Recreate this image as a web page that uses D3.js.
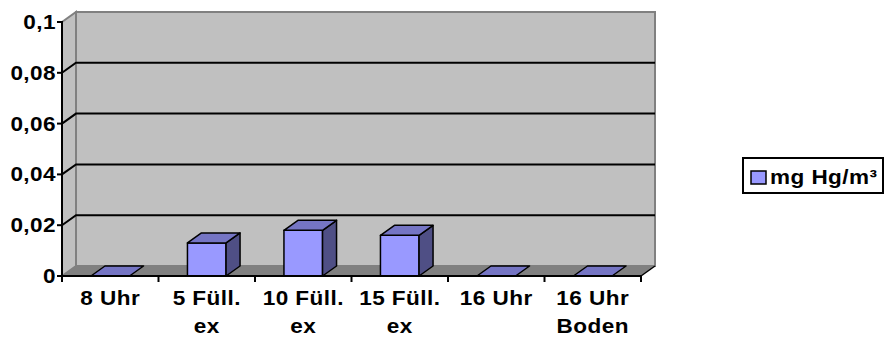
<!DOCTYPE html>
<html>
<head>
<meta charset="utf-8">
<script src="https://cdn.jsdelivr.net/npm/d3@7"></script>
<style>
  html, body { margin: 0; padding: 0; background: #ffffff; }
  svg { display: block; }
  text { font-family: Arial, "Liberation Sans", sans-serif; font-weight: bold; fill: #000; letter-spacing: 0.4px; }
</style>
</head>
<body>
<svg id="chart" width="884" height="337"></svg>
<script>
// Mercury concentration per sampling point
const categories = [["8 Uhr"], ["5 Füll.", "ex"], ["10 Füll.", "ex"], ["15 Füll.", "ex"], ["16 Uhr"], ["16 Uhr", "Boden"]];
const values = [0, 0.013, 0.018, 0.016, 0, 0];
const yTickValues = [0, 0.02, 0.04, 0.06, 0.08, 0.1];
const seriesName = "mg Hg/m³";

const plotLeft = 62, plotRight = 641, plotTop = 22, plotBottom = 276;
const DX = 14, DY = -10;          // depth offset of the 3D box
const SX = 1.1;                   // horizontal stretch of the lettering
const FS = 20.5;

const colFront = "#9999ff", colTop = "#7575c4", colSide = "#4f4f85";
const colWall = "#c0c0c0", colFloor = "#808080", colEdge = "#808080";

const svg = d3.select("#chart");
const keys = categories.map(c => c.join(" "));
const x = d3.scaleBand().domain(keys).range([plotLeft, plotRight]).padding(0);
const y = d3.scaleLinear().domain([0, 0.1]).range([plotBottom, plotTop]);
const fmt = d3.formatLocale({ decimal: ",", thousands: ".", grouping: [3], currency: ["", "€"] }).format("~g");

const pts = a => a.map(p => p.join(",")).join(" ");

// stretched text helper
function label(g, tx, ty, str, anchor) {
  return g.append("text")
    .attr("transform", `translate(${tx},${ty}) scale(${SX},1)`)
    .attr("text-anchor", anchor || "start")
    .style("font-size", FS + "px")
    .text(str);
}

// walls
svg.append("polygon")
  .attr("points", pts([[plotLeft, y(0.1)], [plotLeft + DX, y(0.1) + DY], [plotLeft + DX, plotBottom + DY], [plotLeft, plotBottom]]))
  .attr("fill", colWall).attr("stroke", colEdge).attr("stroke-width", 2);
svg.append("rect")
  .attr("x", plotLeft + DX).attr("y", y(0.1) + DY)
  .attr("width", plotRight - plotLeft).attr("height", plotBottom - y(0.1))
  .attr("fill", colWall).attr("stroke", colEdge).attr("stroke-width", 2);

// gridlines on side and back wall
svg.append("g").selectAll("polyline")
  .data(yTickValues.filter(v => v > 0 && v < 0.1))
  .join("polyline")
  .attr("points", v => pts([[plotLeft, y(v)], [plotLeft + DX, y(v) + DY], [plotRight + DX, y(v) + DY]]))
  .attr("fill", "none").attr("stroke", "#000").attr("stroke-width", 2);

// floor
svg.append("polygon")
  .attr("points", pts([[plotLeft, plotBottom], [plotLeft + DX, plotBottom + DY], [plotRight + DX, plotBottom + DY], [plotRight, plotBottom]]))
  .attr("fill", colFloor).attr("stroke", "none");
svg.append("line")
  .attr("x1", plotRight).attr("y1", plotBottom).attr("x2", plotRight + DX).attr("y2", plotBottom + DY)
  .attr("stroke", "#000").attr("stroke-width", 1.5);

// bars
const bw = x.bandwidth() * 0.4;
const bars = svg.append("g").selectAll("g").data(values.map((v, i) => ({ v, k: keys[i] }))).join("g");
bars.each(function (d) {
  const g = d3.select(this);
  const x0 = x(d.k) + (x.bandwidth() - bw) / 2, x1 = x0 + bw;
  const yt = y(d.v), yb = y(0);
  if (yb - yt > 0.5) {
    g.append("polygon").attr("points", pts([[x0, yb], [x0, yt], [x1, yt], [x1, yb]]))
      .attr("fill", colFront).attr("stroke", "#000").attr("stroke-width", 1.5).attr("stroke-linejoin", "round");
    g.append("polygon").attr("points", pts([[x1, yb], [x1, yt], [x1 + DX, yt + DY], [x1 + DX, yb + DY]]))
      .attr("fill", colSide).attr("stroke", "#000").attr("stroke-width", 1.5).attr("stroke-linejoin", "round");
  }
  g.append("polygon").attr("points", pts([[x0, yt], [x1, yt], [x1 + DX, yt + DY], [x0 + DX, yt + DY]]))
    .attr("fill", colTop).attr("stroke", "#000").attr("stroke-width", 1.5).attr("stroke-linejoin", "round");
});

// value axis
svg.append("line").attr("x1", plotLeft).attr("x2", plotLeft).attr("y1", y(0.1) - 1).attr("y2", plotBottom + 1)
  .attr("stroke", "#000").attr("stroke-width", 2);
const yAx = svg.append("g");
yAx.selectAll("line").data(yTickValues).join("line")
  .attr("x1", plotLeft - 5).attr("x2", plotLeft).attr("y1", d => y(d)).attr("y2", d => y(d))
  .attr("stroke", "#000").attr("stroke-width", 2);
yTickValues.forEach(v => label(yAx, 56, y(v) + 7, fmt(v), "end"));

// category axis
svg.append("line").attr("x1", plotLeft).attr("x2", plotRight).attr("y1", plotBottom).attr("y2", plotBottom)
  .attr("stroke", "#000").attr("stroke-width", 2);
const xAx = svg.append("g");
const bounds = keys.map(k => x(k)).concat([plotRight]);
xAx.selectAll("line").data(bounds).join("line")
  .attr("x1", d => d).attr("x2", d => d).attr("y1", plotBottom).attr("y2", plotBottom + 6)
  .attr("stroke", "#000").attr("stroke-width", 2);
categories.forEach((lines, i) => {
  const cx = x(keys[i]) + x.bandwidth() / 2;
  lines.forEach((t, j) => label(xAx, cx, 305 + j * 28, t, "middle"));
});

// legend
const lg = svg.append("g");
lg.append("rect").attr("x", 743).attr("y", 158).attr("width", 140).attr("height", 35)
  .attr("fill", "#fff").attr("stroke", "#000").attr("stroke-width", 2);
lg.append("rect").attr("x", 751).attr("y", 171).attr("width", 15).attr("height", 13)
  .attr("fill", colFront).attr("stroke", "#000").attr("stroke-width", 1.5);
label(lg, 770, 184, seriesName, "start");
</script>
</body>
</html>
